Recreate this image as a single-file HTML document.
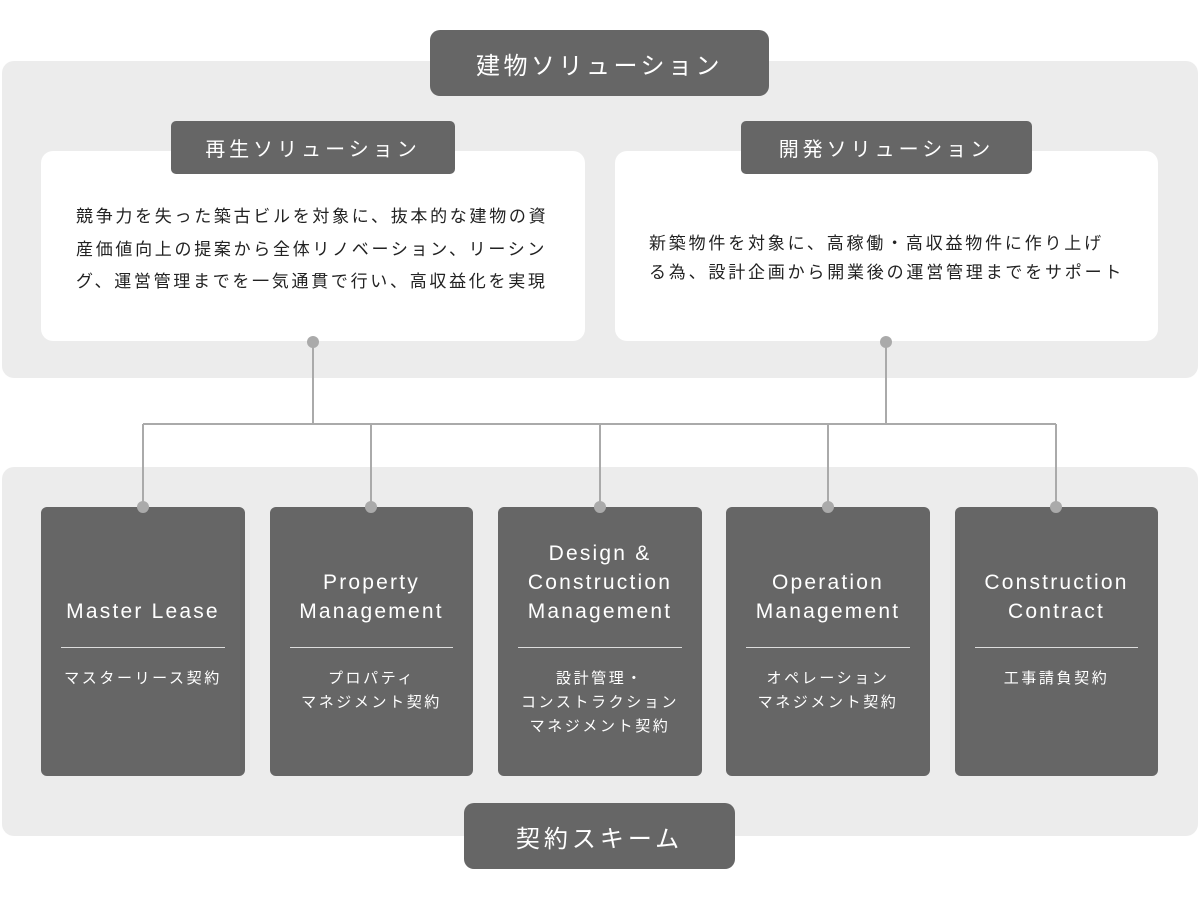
<!DOCTYPE html>
<html><head><meta charset="utf-8"><style>
body{margin:0;width:1200px;height:900px;background:#fff;position:relative;overflow:hidden;font-family:"Liberation Sans","Noto Sans CJK JP",sans-serif;}
.a{position:absolute;box-sizing:border-box;}
.panel{background:#ececec;border-radius:12px;}
.dark{background:#666;color:#fff;display:flex;align-items:center;justify-content:center;white-space:nowrap;}
.white{background:#fff;border-radius:12px;}
.txt{position:absolute;white-space:nowrap;color:#222;}
.card{background:#666;border-radius:6px;color:#fff;text-align:center;}
.en{position:absolute;left:0;right:0;font-size:21px;letter-spacing:2.2px;line-height:29px;}
.hr{position:absolute;left:20px;right:20px;top:140px;height:1px;background:#ddd;}
.jp{position:absolute;left:0;right:0;top:160px;font-size:15px;letter-spacing:2.6px;line-height:24px;}
</style></head><body>
<div class="a panel" style="left:2px;top:61px;width:1196px;height:317px"></div>
<div class="a panel" style="left:2px;top:467px;width:1196px;height:369px"></div>
<div class="a white" style="left:41px;top:151px;width:544px;height:190px"></div>
<div class="a white" style="left:615px;top:151px;width:543px;height:190px"></div>
<div class="a dark" style="left:430px;top:30px;width:339px;height:66px;border-radius:10px;font-size:24px;letter-spacing:3.5px">建物ソリューション</div>
<div class="a dark" style="left:171px;top:121px;width:284px;height:53px;border-radius:5px;font-size:20px;letter-spacing:4px">再生ソリューション</div>
<div class="a dark" style="left:741px;top:121px;width:291px;height:53px;border-radius:5px;font-size:20px;letter-spacing:4px">開発ソリューション</div>
<div class="txt" style="left:76px;top:201px;font-size:17px;letter-spacing:2.7px;line-height:32.5px">競争力を失った築古ビルを対象に、抜本的な建物の資<br>産価値向上の提案から全体リノベーション、リーシン<br>グ、運営管理までを一気通貫で行い、高収益化を実現</div>
<div class="txt" style="left:649px;top:229px;font-size:17px;letter-spacing:2.8px;line-height:29px">新築物件を対象に、高稼働・高収益物件に作り上げ<br>る為、設計企画から開業後の運営管理までをサポート</div>
<svg class="a" style="left:0;top:0" width="1200" height="900">
<g stroke="#aaa" stroke-width="2" fill="none">
<path d="M313 342V424M886 342V424M143 424H1056M143 424V507M371 424V507M600 424V507M828 424V507M1056 424V507"/>
</g>
<g fill="#aaa">
<circle cx="313" cy="342" r="6"/><circle cx="886" cy="342" r="6"/>
</g>
</svg>
<div class="a card" style="left:41px;top:507px;width:204px;height:269px"><div class="en" style="top:90px">Master Lease</div><div class="hr"></div><div class="jp">マスターリース契約</div></div>
<div class="a card" style="left:270px;top:507px;width:203px;height:269px"><div class="en" style="top:61px">Property<br>Management</div><div class="hr"></div><div class="jp">プロパティ<br>マネジメント契約</div></div>
<div class="a card" style="left:498px;top:507px;width:204px;height:269px"><div class="en" style="top:32px">Design &amp;<br>Construction<br>Management</div><div class="hr"></div><div class="jp">設計管理・<br>コンストラクション<br>マネジメント契約</div></div>
<div class="a card" style="left:726px;top:507px;width:204px;height:269px"><div class="en" style="top:61px">Operation<br>Management</div><div class="hr"></div><div class="jp">オペレーション<br>マネジメント契約</div></div>
<div class="a card" style="left:955px;top:507px;width:203px;height:269px"><div class="en" style="top:61px">Construction<br>Contract</div><div class="hr"></div><div class="jp">工事請負契約</div></div>
<svg class="a" style="left:0;top:0" width="1200" height="900">
<g fill="#aaa"><circle cx="143" cy="507" r="6"/><circle cx="371" cy="507" r="6"/><circle cx="600" cy="507" r="6"/><circle cx="828" cy="507" r="6"/><circle cx="1056" cy="507" r="6"/></g>
</svg>
<div class="a dark" style="left:464px;top:803px;width:271px;height:66px;border-radius:10px;font-size:24px;letter-spacing:4px">契約スキーム</div>
</body></html>
